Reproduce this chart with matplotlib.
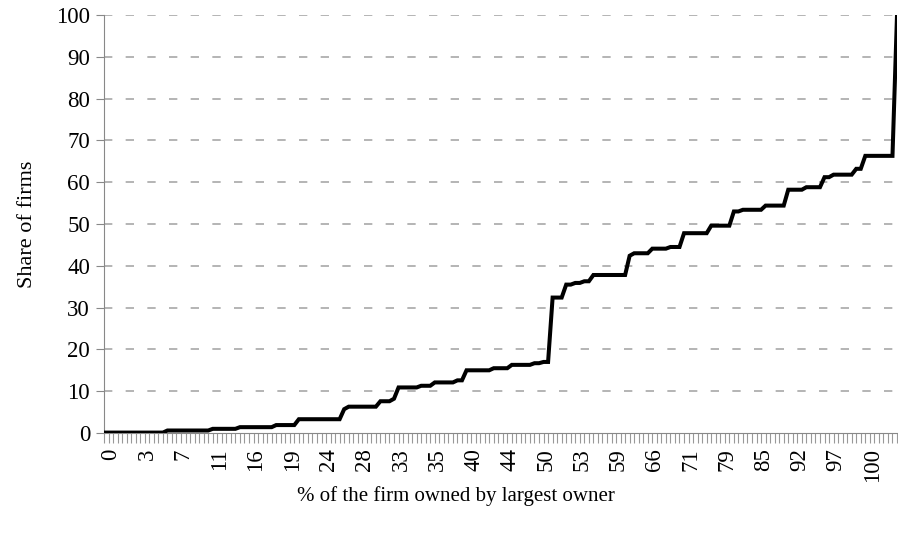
import matplotlib.pyplot as plt
import matplotlib.transforms as mtransforms

plt.rcParams['font.family'] = ['Liberation Serif', 'DejaVu Serif']

# cumulative share of firms (%) for each ownership category
share = [
    0.1, 0.1, 0.1, 0.1, 0.1, 0.1, 0.1, 0.1, 0.1, 0.1, 0.1, 0.1, 0.1, 0.1,
    0.6, 0.6, 0.6, 0.6, 0.6, 0.6, 0.6, 0.6, 0.6, 0.6,
    1.0, 1.0, 1.0, 1.0, 1.0, 1.0,
    1.4, 1.4, 1.4, 1.4, 1.4, 1.4, 1.4, 1.4,
    1.9, 1.9, 1.9, 1.9, 1.9,
    3.3, 3.3, 3.3, 3.3, 3.3, 3.3, 3.3, 3.3, 3.3, 3.3,
    5.7,
    6.3, 6.3, 6.3, 6.3, 6.3, 6.3, 6.3,
    7.6, 7.6, 7.6,
    8.2,
    10.9, 10.9, 10.9, 10.9, 10.9,
    11.3, 11.3, 11.3,
    12.1, 12.1, 12.1, 12.1, 12.1,
    12.6, 12.6,
    15.0, 15.0, 15.0, 15.0, 15.0, 15.0,
    15.5, 15.5, 15.5, 15.5,
    16.3, 16.3, 16.3, 16.3, 16.3,
    16.7, 16.7,
    17.0, 17.0,
    32.4, 32.4, 32.4,
    35.5, 35.5,
    35.9, 35.9,
    36.3, 36.3,
    37.8, 37.8, 37.8, 37.8, 37.8, 37.8, 37.8, 37.8,
    42.4,
    43.0, 43.0, 43.0, 43.0,
    44.1, 44.1, 44.1, 44.1,
    44.5, 44.5, 44.5,
    47.8, 47.8, 47.8, 47.8, 47.8, 47.8,
    49.6, 49.6, 49.6, 49.6, 49.6,
    53.0, 53.0,
    53.4, 53.4, 53.4, 53.4, 53.4,
    54.4, 54.4, 54.4, 54.4, 54.4,
    58.2, 58.2, 58.2, 58.2,
    58.8, 58.8, 58.8, 58.8,
    61.2, 61.2,
    61.8, 61.8, 61.8, 61.8, 61.8,
    63.2, 63.2,
    66.3, 66.3, 66.3, 66.3, 66.3, 66.3, 66.3,
    100.0,
]

# category labels shown on the x axis (every 8th category)
shown_labels = ['0', '3', '7', '11', '16', '19', '24', '28', '33', '35', '40',
                '44', '50', '53', '59', '66', '71', '79', '85', '92', '97', '100']
label_step = 8

n = len(share)
xs = list(range(n))

fig = plt.figure(figsize=(8.98, 5.33), dpi=100)
ax = fig.add_axes([0.1158, 0.1876, 0.9989 - 0.1158, 0.9719 - 0.1876])

ax.plot(xs, share, color='black', linewidth=2.9, solid_joinstyle='miter', zorder=3)

ax.set_xlim(0, n - 1)
ax.set_ylim(0, 100)
ax.set_yticks(range(0, 101, 10))
ax.tick_params(axis='y', labelsize=16.5, length=6, color='#888888', pad=4)

ax.set_xticks(xs)
labels = [''] * n
for i, lab in enumerate(shown_labels):
    labels[i * label_step] = lab
ax.set_xticklabels(labels, rotation=90, fontsize=16.5)
ax.tick_params(axis='x', length=7, color='#999999', pad=4)
offset = mtransforms.ScaledTranslation(7 / 100, 0, fig.dpi_scale_trans)
for lbl in ax.get_xticklabels():
    lbl.set_transform(lbl.get_transform() + offset)

for y in range(10, 101, 10):
    ax.axhline(y, color='#a8a8a8', linestyle=(0, (5, 8)), linewidth=1.2, zorder=1)

for side in ['top', 'right']:
    ax.spines[side].set_visible(False)
ax.spines['left'].set_color('#888888')
ax.spines['bottom'].set_color('#888888')

ax.set_ylabel('Share of firms', fontsize=16, labelpad=14)
fig.text(456 / 898, 1 - 496 / 533, '% of the firm owned by largest owner',
         ha='center', va='center', fontsize=15)

fig.savefig('out.png', dpi=100)
